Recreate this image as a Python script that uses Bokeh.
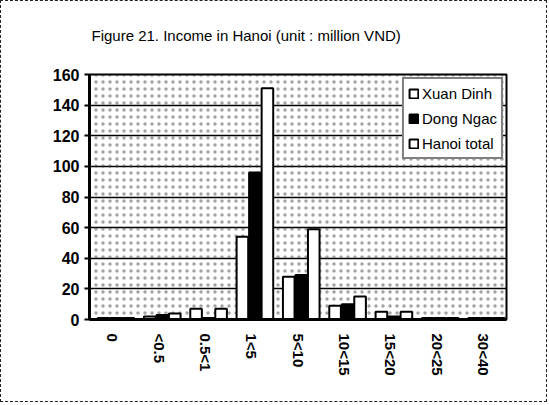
from bokeh.plotting import figure
from bokeh.models import ColumnDataSource, Range1d, FactorRange, Legend, LegendItem, BoxAnnotation, Title
from bokeh.transform import dodge
from bokeh.embed import file_html
from bokeh.resources import INLINE

categories = ["0", "<0.5", "0.5<1", "1<5", "5<10", "10<15", "15<20", "20<25", "30<40"]
xuan_dinh = [1, 2, 7, 54, 28, 9, 5, 1, 1]
dong_ngac = [1, 3, 1, 96, 29, 10, 2, 1, 1]
hanoi_total = [1, 4, 7, 151, 59, 15, 5, 1, 1]
y_ticks = [0, 20, 40, 60, 80, 100, 120, 140, 160]
title_text = "Figure 21. Income in Hanoi (unit : million VND)"

source = ColumnDataSource(dict(cat=categories, xd=xuan_dinh, dn=dong_ngac, ht=hanoi_total))

FONT = "Liberation Sans"

p = figure(x_range=FactorRange(*categories, range_padding=0.0), y_range=Range1d(0, 160),
           frame_width=417, frame_height=245, output_backend="svg", toolbar_location=None,
           min_border_left=88, min_border_right=40, min_border_top=73, min_border_bottom=82)
p.x_range.factor_padding = 0.0
p.styles = {"border": "1px dashed #222"}

# spacer between the frame and the title (added first -> nearest to frame)
p.add_layout(Title(text=" ", text_font_size="12px"), "above")
p.add_layout(Title(text=title_text, align="left", offset=2, text_font=FONT,
                   text_font_size="15px", text_font_style="normal", text_color="black"), "above")

p.background_fill_color = "white"
p.border_fill_color = "white"
p.add_layout(BoxAnnotation(left=None, right=None, bottom=None, top=None, fill_alpha=0,
                           line_alpha=0, hatch_pattern=".", hatch_color="#333", hatch_alpha=0.45,
                           hatch_scale=7, hatch_weight=0.6, level="underlay"))

w = 0.25
r1 = p.vbar(x=dodge("cat", -0.2, range=p.x_range), top="xd", width=w, source=source,
            fill_color="white", line_color="black", line_width=2)
r2 = p.vbar(x=dodge("cat", 0.07, range=p.x_range), top="dn", width=w, source=source,
            fill_color="black", line_color="black", line_width=2)
r3 = p.vbar(x=dodge("cat", 0.34, range=p.x_range), top="ht", width=w, source=source,
            fill_color="white", line_color="black", line_width=2)

p.yaxis.ticker = y_ticks
p.ygrid.ticker = y_ticks
p.ygrid.grid_line_color = "black"
p.ygrid.grid_line_width = 1.3
p.xgrid.grid_line_color = None

p.yaxis.major_label_text_font = FONT
p.yaxis.major_label_text_font_size = "16px"
p.yaxis.major_label_text_font_style = "bold"
p.yaxis.major_label_text_color = "black"
p.yaxis.axis_line_width = 3
p.yaxis.major_tick_line_width = 2
p.yaxis.minor_tick_line_color = None
p.yaxis.major_tick_in = 0
p.yaxis.major_tick_out = 5

p.xaxis.major_label_orientation = "vertical"
p.xaxis.major_label_text_font = FONT
p.xaxis.major_label_text_font_size = "15px"
p.xaxis.major_label_text_font_style = "bold"
p.xaxis.major_label_text_color = "black"
p.xaxis.axis_line_width = 3
p.xaxis.major_tick_line_color = None
p.xaxis.major_label_standoff = 8

p.outline_line_color = "black"
p.outline_line_width = 2

legend = Legend(items=[LegendItem(label="Xuan Dinh", renderers=[r1]),
                       LegendItem(label="Dong Ngac", renderers=[r2]),
                       LegendItem(label="Hanoi total", renderers=[r3])],
                location="top_right")
legend.label_text_font = FONT
legend.label_text_font_size = "15px"
legend.label_text_color = "black"
legend.border_line_color = "black"
legend.border_line_width = 2
legend.background_fill_color = "white"
legend.background_fill_alpha = 1
legend.glyph_width = 11
legend.glyph_height = 11
legend.spacing = 5
legend.padding = 4
legend.margin = 3
legend.label_standoff = 3
legend.label_height = 20
p.add_layout(legend)

open("out.html", "w").write(file_html(p, INLINE))
